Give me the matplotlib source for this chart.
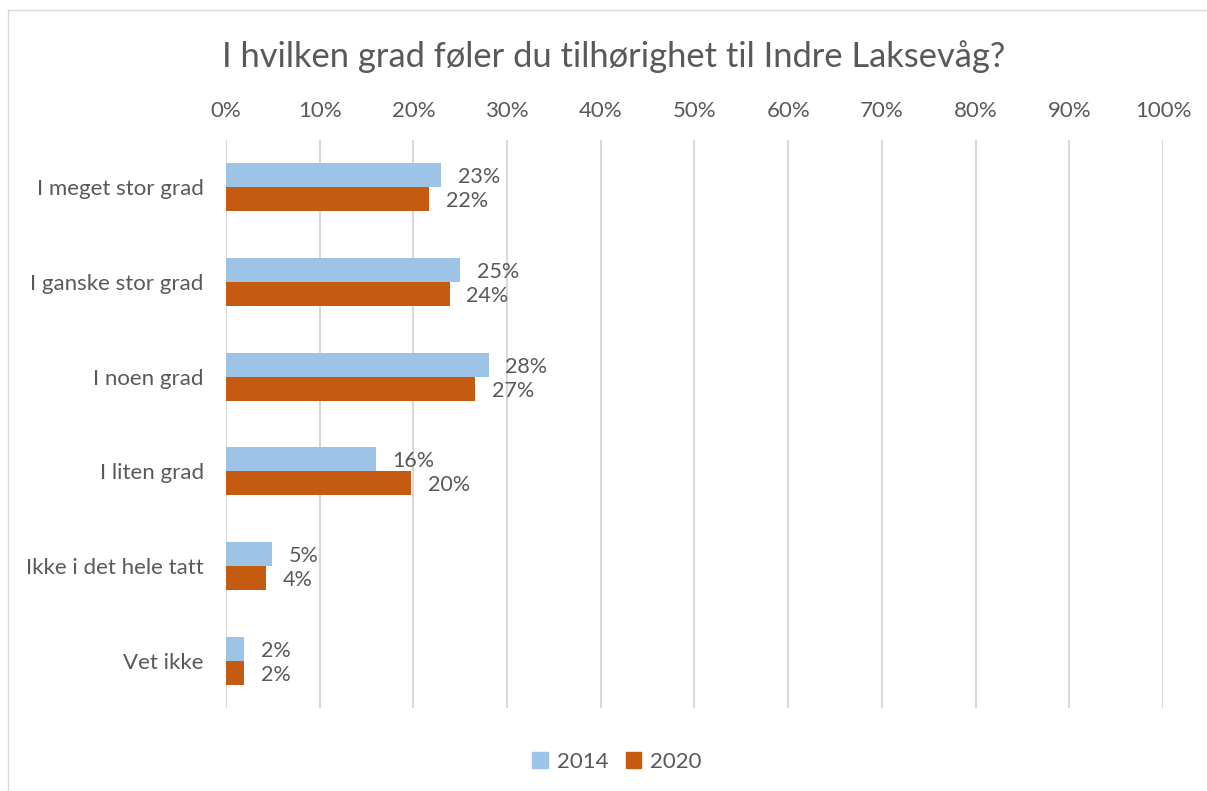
import matplotlib
matplotlib.use("Agg")
import matplotlib.pyplot as plt
from matplotlib.patches import Rectangle
import numpy as np

categories = ["I meget stor grad", "I ganske stor grad", "I noen grad",
              "I liten grad", "Ikke i det hele tatt", "Vet ikke"]
vals_2014 = [22.97, 25.0, 28.04, 15.97, 4.93, 1.93]
vals_2020 = [21.7, 23.86, 26.6, 19.75, 4.29, 1.96]
series_names = ["2014", "2020"]
colors = ["#9DC3E6", "#C55A11"]
title = "I hvilken grad føler du tilhørighet til Indre Laksevåg?"

plt.rcParams['font.family'] = ['Lato', 'DejaVu Sans']
text_col = "#595959"

fig = plt.figure(figsize=(12.07, 7.91), dpi=100)
W, H = 1207, 791
ax = fig.add_axes([226 / W, 1 - 708 / H, (1163 - 226) / W, (708 - 140) / H])

y = np.arange(len(categories))
h = 0.255
b1 = ax.barh(y - h / 2, vals_2014, height=h, color=colors[0], label=series_names[0], zorder=3)
b2 = ax.barh(y + h / 2, vals_2020, height=h, color=colors[1], label=series_names[1], zorder=3)

# value labels next to the bar ends
for bars in (b1, b2):
    for bar in bars:
        v = bar.get_width()
        ax.annotate(f"{v:.0f}%", (v, bar.get_y() + bar.get_height() / 2),
                    xytext=(12, -1.5), textcoords="offset points",
                    va="center", ha="left", fontsize=15.5, color=text_col)

ax.set_xlim(0, 100)
ax.set_ylim(len(categories) - 0.5, -0.5)
ax.set_xticks(np.arange(0, 101, 10))
ax.set_xticklabels([f"{t}%" for t in range(0, 101, 10)])
ax.xaxis.tick_top()
ax.set_yticks(y)
ax.set_yticklabels(categories)
ax.tick_params(axis="both", length=0, labelsize=16, colors=text_col)
ax.tick_params(axis="x", pad=14)
ax.tick_params(axis="y", pad=16)
ax.grid(axis="x", color="#D9D9D9", linewidth=1.5, zorder=0)
for s in ax.spines.values():
    s.set_visible(False)

fig.text(614 / W, 1 - 57 / H, title, ha="center", va="center", fontsize=24.8, color=text_col)

handles = [Rectangle((0, 0), 1, 1, color=c) for c in colors]
fig.legend(handles, series_names, loc="center", bbox_to_anchor=(617 / W, 1 - 762 / H),
           ncol=2, frameon=False, fontsize=16, labelcolor=text_col,
           handlelength=0.7, handleheight=0.7, handletextpad=0.4, columnspacing=0.8)

fig.patches.append(Rectangle((8 / W, -0.1), 1.2, 1 - 10 / H + 0.1, transform=fig.transFigure,
                             fill=False, edgecolor="#D9D9D9", linewidth=1))

fig.savefig("out.png", dpi=100)
